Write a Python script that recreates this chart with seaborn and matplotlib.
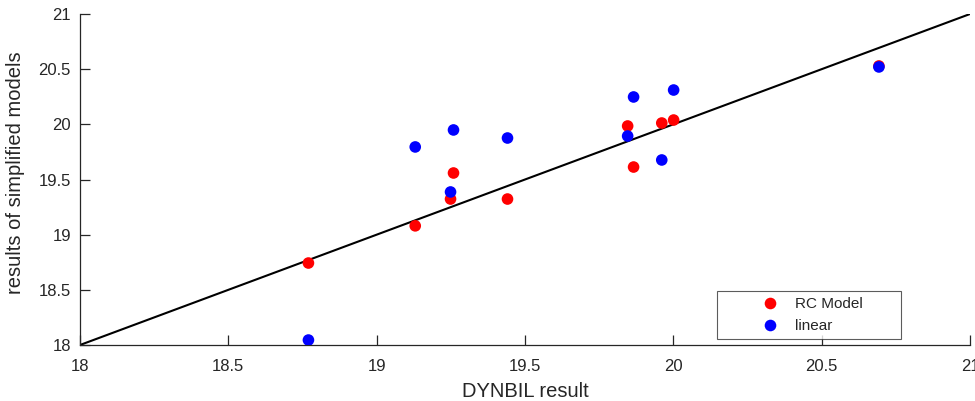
import matplotlib
matplotlib.use("Agg")
import matplotlib.pyplot as plt
import seaborn as sns
import pandas as pd

# data
dynbil = [18.77, 19.13, 19.249, 19.259, 19.441, 19.846, 19.866, 19.961, 20.001, 20.693]
rc_model = [18.743, 19.08, 19.323, 19.559, 19.323, 19.985, 19.613, 20.012, 20.039, 20.529]
linear = [18.045, 19.795, 19.387, 19.949, 19.876, 19.894, 20.248, 19.677, 20.311, 20.52]
series_names = ["RC Model", "linear"]
ref_line = [18, 21]
ticks = [18, 18.5, 19, 19.5, 20, 20.5, 21]
tick_labels = ["18", "18.5", "19", "19.5", "20", "20.5", "21"]

df = pd.DataFrame({
    "x": dynbil + dynbil,
    "y": rc_model + linear,
    "model": [series_names[0]] * len(dynbil) + [series_names[1]] * len(dynbil),
})

sns.set_style("white")
plt.rcParams["font.family"] = ["Liberation Sans", "DejaVu Sans"]

fig = plt.figure(figsize=(9.75, 4.01), dpi=100)
ax = fig.add_axes([80 / 975, 1 - 345 / 401, 890 / 975, 331 / 401])

ax.plot(ref_line, ref_line, color="black", lw=1.5, zorder=1)
sns.scatterplot(data=df, x="x", y="y", hue="model",
                palette={"RC Model": "#ff0000", "linear": "#0000ff"},
                s=70, edgecolor="none", ax=ax, zorder=3)

ax.set_xlim(18, 21)
ax.set_ylim(18, 21)
ax.set_xticks(ticks)
ax.set_xticklabels(tick_labels)
ax.set_yticks(ticks)
ax.set_yticklabels(tick_labels)
ax.tick_params(direction="in", length=7, width=0.9, color="#262626",
               labelsize=12, labelcolor="#262626", bottom=True, left=True)
ax.tick_params(axis="x", pad=10)
ax.tick_params(axis="y", pad=6.5)
for s in ["top", "right"]:
    ax.spines[s].set_visible(False)
for s in ["left", "bottom"]:
    ax.spines[s].set_color("#262626")
    ax.spines[s].set_linewidth(0.9)
ax.set_xlabel("DYNBIL result", fontsize=14.5, color="#262626")
ax.set_ylabel("results of simplified models", fontsize=14.5, color="#262626")
ax.xaxis.set_label_coords(0.5, -37 / 331, transform=ax.transAxes)
ax.xaxis.label.set_va("top")
ax.yaxis.set_label_coords(-55 / 890, 0.52, transform=ax.transAxes)

handles, labels = ax.get_legend_handles_labels()
leg = ax.legend(handles, labels, loc="lower left",
                bbox_to_anchor=(0.716, 0.018, 0.2067, 0.1), mode="expand",
                borderaxespad=0,
                fontsize=11, frameon=True, fancybox=False,
                handlelength=6.1, handletextpad=-1.4, labelspacing=0.5,
                borderpad=0.4, markerscale=1.0)
leg.get_frame().set_edgecolor("#333333")
leg.get_frame().set_linewidth(0.8)
for t in leg.get_texts():
    t.set_color("#262626")

fig.savefig("out.png", dpi=100)
